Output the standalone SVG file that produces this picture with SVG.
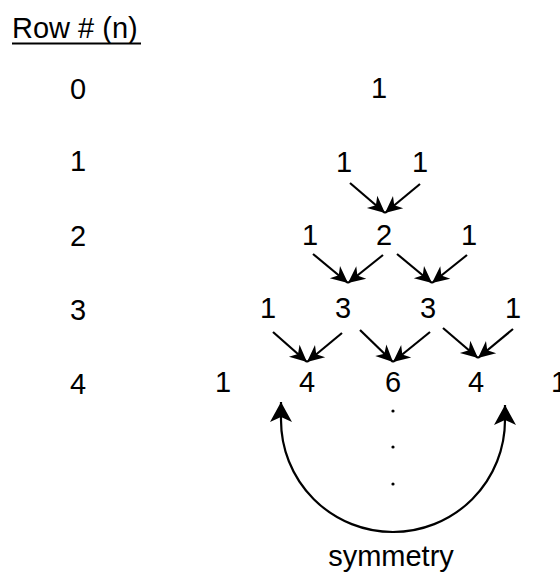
<svg xmlns="http://www.w3.org/2000/svg" width="560" height="577" viewBox="0 0 560 577">
  <style>
    text { font-family: "Liberation Sans", Arial, Helvetica, sans-serif; font-size: 29px; fill: #000; }
    .c { text-anchor: middle; }
    .arr { stroke: #000; stroke-width: 2.2; fill: none; marker-end: url(#head); }
    .sym { stroke: #000; stroke-width: 2.2; fill: none; marker-start: url(#bighead); marker-end: url(#bighead); }
  </style>
  <defs>
    <marker id="head" markerUnits="userSpaceOnUse" viewBox="-18 -9 20 18" refX="0" refY="0" markerWidth="20" markerHeight="18" orient="auto">
      <path d="M0,0 L-17,-8 L-12,0 L-17,8 Z" fill="#000"/>
    </marker>
    <marker id="bighead" markerUnits="userSpaceOnUse" viewBox="-21 -12 23 24" refX="0" refY="0" markerWidth="23" markerHeight="24" orient="auto-start-reverse">
      <path d="M0,0 L-20,-11 L-15,0 L-20,11 Z" fill="#000"/>
    </marker>
  </defs>

  <g id="title">
    <text x="12" y="38">Row # (n)</text>
    <line x1="12" y1="43.5" x2="141" y2="43.5" stroke="#000" stroke-width="2"/>
  </g>

  <g id="row-labels">
    <text class="c" x="78" y="99">0</text>
    <text class="c" x="78" y="171">1</text>
    <text class="c" x="78" y="246">2</text>
    <text class="c" x="78" y="320">3</text>
    <text class="c" x="78" y="394">4</text>
  </g>

  <g id="row0"><text class="c" x="379" y="98">1</text></g>
  <g id="row1">
    <text class="c" x="344" y="172">1</text>
    <text class="c" x="420" y="172">1</text>
  </g>
  <g id="row2">
    <text class="c" x="310" y="245">1</text>
    <text class="c" x="384" y="245">2</text>
    <text class="c" x="469" y="245">1</text>
  </g>
  <g id="row3">
    <text class="c" x="268" y="318">1</text>
    <text class="c" x="343" y="318">3</text>
    <text class="c" x="428" y="318">3</text>
    <text class="c" x="513" y="318">1</text>
  </g>
  <g id="row4">
    <text class="c" x="223" y="392">1</text>
    <text class="c" x="307" y="392">4</text>
    <text class="c" x="393" y="392">6</text>
    <text class="c" x="476" y="392">4</text>
    <text class="c" x="559" y="392">1</text>
  </g>

  <g id="dots" fill="#000">
    <circle cx="393" cy="411" r="1.6"/>
    <circle cx="393" cy="447" r="1.6"/>
    <circle cx="393" cy="484" r="1.6"/>
  </g>

  <g id="connectors">
    <line class="arr" x1="350" y1="183" x2="385" y2="213"/>
    <line class="arr" x1="420" y1="184" x2="385" y2="213"/>

    <line class="arr" x1="313" y1="254" x2="348" y2="283"/>
    <line class="arr" x1="383" y1="255" x2="348" y2="283"/>
    <line class="arr" x1="397" y1="254" x2="432" y2="283"/>
    <line class="arr" x1="467" y1="255" x2="432" y2="283"/>

    <line class="arr" x1="273" y1="332" x2="307" y2="362"/>
    <line class="arr" x1="342" y1="333" x2="307" y2="362"/>
    <line class="arr" x1="360" y1="330" x2="393" y2="362"/>
    <line class="arr" x1="430" y1="332" x2="393" y2="362"/>
    <line class="arr" x1="443" y1="328" x2="478" y2="358"/>
    <line class="arr" x1="513" y1="329" x2="478" y2="358"/>

    <path class="sym" d="M281,402 L281,420 A112,112 0 0 0 505,420 L505,405"/>
  </g>

  <g id="symmetry-label">
    <text class="c" x="391" y="566">symmetry</text>
  </g>
</svg>
